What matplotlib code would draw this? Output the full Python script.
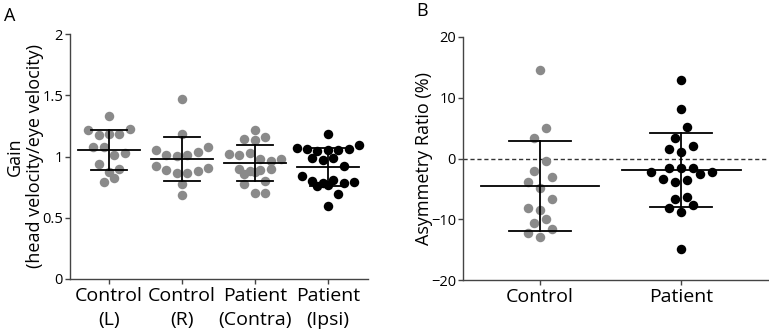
import matplotlib
matplotlib.use("Agg")
import matplotlib.pyplot as plt
import numpy as np

plt.rcParams['font.family'] = ['Open Sans', 'DejaVu Sans']

# ---------------- Data ----------------
gain_labels = ["Control\n(L)", "Control\n(R)", "Patient\n(Contra)", "Patient\n(Ipsi)"]
gain_control_L = [1.333, 1.214, 1.173, 1.186, 1.186, 1.225, 1.075, 1.075, 1.009, 1.029,
                  0.941, 0.871, 0.901, 0.789, 0.825]
gain_control_R = [1.469, 1.184, 1.056, 1.009, 1.001, 1.009, 1.034, 1.075, 0.920, 0.887,
                  0.865, 0.865, 0.879, 0.906, 0.776, 0.688]
gain_patient_contra = [1.219, 1.145, 1.132, 1.156, 1.023, 1.015, 1.028, 0.980, 0.961, 0.980,
                       0.898, 0.879, 0.860, 0.892, 0.871, 0.898, 0.778, 0.797, 0.702, 0.702]
gain_patient_ipsi = [1.186, 1.069, 1.061, 1.042, 1.050, 1.050, 1.061, 1.097, 0.988, 0.969,
                     0.988, 0.925, 0.838, 0.797, 0.784, 0.756, 0.770, 0.805, 0.784, 0.789,
                     0.697, 0.593]
gain_colors = ["#8a8a8a", "#8a8a8a", "#8a8a8a", "#000000"]

asym_labels = ["Control", "Patient"]
asym_control = [14.5, 5.0, 3.3, -0.4, -2.1, -3.0, -3.8, -4.9, -6.7, -8.4, -8.2, -9.9,
                -10.6, -11.6, -12.2, -13.0]
asym_patient = [12.9, 8.2, 5.2, 3.3, 1.6, 2.0, 1.1, -2.2, -2.6, -1.5, -1.6, -1.5, -2.2,
                -3.6, -3.8, -3.3, -6.7, -6.4, -8.2, -8.8, -7.7, -14.9]
asym_colors = ["#8a8a8a", "#000000"]

# ---------------- Figure ----------------
DPI = 100
fig = plt.figure(figsize=(7.69, 3.34), dpi=DPI)
axA = fig.add_axes([70/769, 55/334, 298/769, 245/334])
axB = fig.add_axes([463/769, 54/334, 306/769, 243/334])

spine_col = "#444444"
DOT_PX = 9.5                      # marker diameter in pixels
DOT_S = (DOT_PX * 72 / DPI) ** 2  # scatter size in points^2


def style(ax):
    for s in ["top", "right"]:
        ax.spines[s].set_visible(False)
    for s in ["left", "bottom"]:
        ax.spines[s].set_color(spine_col)
        ax.spines[s].set_linewidth(1.0)
    ax.tick_params(axis="both", colors=spine_col, width=1.0, length=3.5)
    ax.tick_params(axis="y", labelsize=10.5, labelcolor="black", pad=1.5)
    ax.tick_params(axis="x", labelsize=14, labelcolor="black", pad=2)


def row_offsets(values, dy, dx, mode):
    """Prism-like scatter layout: group close values into rows, spread rows horizontally."""
    v = np.asarray(values, dtype=float)
    order = np.argsort(v, kind="stable")
    offs = np.zeros(len(v))
    i = 0
    n = len(v)
    while i < n:
        j = i
        while j + 1 < n and v[order[j + 1]] - v[order[i]] < dy:
            j += 1
        k = j - i + 1
        if mode == "index":
            idx = sorted(order[i:j + 1])
            for m, ii in enumerate(idx):
                offs[ii] = (m - (k - 1) / 2) * dx
        else:  # centre-out alternating
            idx = list(order[i:j + 1])
            if k % 2:
                slots = [0]
                for s in range(1, k // 2 + 1):
                    slots += [-s, s]
            else:
                slots = []
                for s in range(k // 2):
                    slots += [-(s + 0.5), s + 0.5]
            for ii, sl in zip(idx, slots):
                offs[ii] = sl * dx
        i = j + 1
    return offs


def draw_group(ax, groups, colors, mean_hw, cap_hw, dy_f, dx_f, mode):
    bbox = ax.get_window_extent()
    x0, x1 = ax.get_xlim()
    y0, y1 = ax.get_ylim()
    px_x = bbox.width / (x1 - x0)
    px_y = bbox.height / (y1 - y0)
    dy = dy_f * DOT_PX / px_y
    dx = dx_f * DOT_PX / px_x
    for i, v in enumerate(groups):
        offs = row_offsets(v, dy, dx, mode)
        ax.scatter(i + offs, v, s=DOT_S, color=colors[i], linewidths=0, zorder=2)
        m = np.mean(v)
        sd = np.std(v, ddof=1)
        ax.plot([i - mean_hw, i + mean_hw], [m, m], color="black", lw=1.3, zorder=3)
        ax.plot([i - cap_hw, i + cap_hw], [m + sd, m + sd], color="black", lw=1.3, zorder=3)
        ax.plot([i - cap_hw, i + cap_hw], [m - sd, m - sd], color="black", lw=1.3, zorder=3)
        ax.plot([i, i], [m - sd, m + sd], color="black", lw=1.3, zorder=3)


# Panel A
axA.set_ylim(0, 2)
axA.set_xlim(-0.534, 3.55)
draw_group(axA, [gain_control_L, gain_control_R, gain_patient_contra, gain_patient_ipsi],
           gain_colors, 0.42, 0.25, 1.0, 1.1, "index")
style(axA)
axA.set_yticks([0, 0.5, 1, 1.5, 2])
axA.set_yticklabels(["0", "0.5", "1", "1.5", "2"])
axA.set_xticks(range(4))
axA.set_xticklabels(gain_labels, linespacing=1.45)
axA.set_ylabel("Gain\n(head velocity/eye velocity)", fontsize=13, linespacing=1.15)
axA.yaxis.set_label_coords(-0.088, 0.5)

# Panel B
axB.set_ylim(-20, 20)
axB.set_xlim(-0.546, 1.62)
draw_group(axB, [asym_control, asym_patient], asym_colors, 0.42, 0.22, 1.3, 1.27, "centre")
style(axB)
axB.axhline(0, color="#333333", lw=1.0, ls=(0, (3, 2)), zorder=1)
axB.set_yticks([-20, -10, 0, 10, 20])
axB.set_xticks(range(2))
axB.set_xticklabels(asym_labels)
axB.set_ylabel("Asymmetry Ratio (%)", fontsize=13)
axB.yaxis.set_label_coords(-0.097, 0.5)

fig.text(4/769, 1 - 21/334, "A", fontsize=13)
fig.text(416/769, 1 - 16/334, "B", fontsize=13)

fig.savefig("out.png", dpi=DPI)
